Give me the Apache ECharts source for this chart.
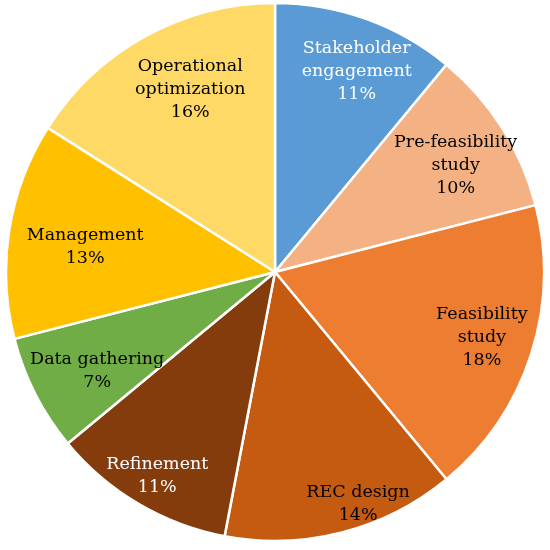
<!DOCTYPE html>
<html>
<head>
<meta charset="utf-8">
<script src="https://cdn.jsdelivr.net/npm/echarts@6/dist/echarts.min.js"></script>
<style>html,body{margin:0;padding:0;background:#fff;}#c{width:550px;height:550px;}</style>
</head>
<body>
<div id="c"></div>
<script>
var categories = ['Stakeholder\nengagement', 'Pre-feasibility\nstudy', 'Feasibility\nstudy', 'REC design', 'Refinement', 'Data gathering', 'Management', 'Operational\noptimization'];
var values = [11, 10, 18, 14, 11, 7, 13, 16];
var colors = ['#5B9BD5', '#F4B183', '#ED7D31', '#C55A11', '#843C0C', '#70AD47', '#FFC000', '#FFD966'];
var labelColors = ['#fff', '#000', '#000', '#000', '#fff', '#000', '#000', '#000'];
// label nudges [dx, dy] in px (style only)
var labelNudge = [[8, 4], [-3, 10], [0, -2], [29, 21], [-7, 17], [16, 0], [25, 9], [20, 8]];

var pieData = categories.map(function (c, i) {
  return { name: c, value: values[i], itemStyle: { color: colors[i] } };
});
var labelData = categories.map(function (c, i) {
  return { name: c, value: values[i], label: { color: labelColors[i] } };
});

var chart = echarts.init(document.getElementById('c'), null, { renderer: 'canvas' });
chart.setOption({
  animation: false,
  series: [
    {
      type: 'pie',
      center: [275, 272],
      radius: [0, 269],
      startAngle: 90,
      clockwise: true,
      label: { show: false },
      labelLine: { show: false },
      itemStyle: { borderColor: '#fff', borderWidth: 2.5 },
      emphasis: { disabled: true },
      data: pieData
    },
    {
      type: 'pie',
      center: [275, 272],
      radius: [160, 269],
      startAngle: 90,
      clockwise: true,
      silent: true,
      itemStyle: { color: 'rgba(0,0,0,0)' },
      label: {
        show: true,
        position: 'inside',
        fontFamily: 'DejaVu Serif',
        fontSize: 17.5,
        lineHeight: 23,
        align: 'center',
        formatter: function (p) { return p.name + '\n' + p.value + '%'; }
      },
      labelLayout: function (params) {
        var n = labelNudge[params.dataIndex];
        return { dx: n[0], dy: n[1] };
      },
      labelLine: { show: false },
      emphasis: { disabled: true },
      data: labelData
    }
  ]
});
</script>
</body>
</html>
